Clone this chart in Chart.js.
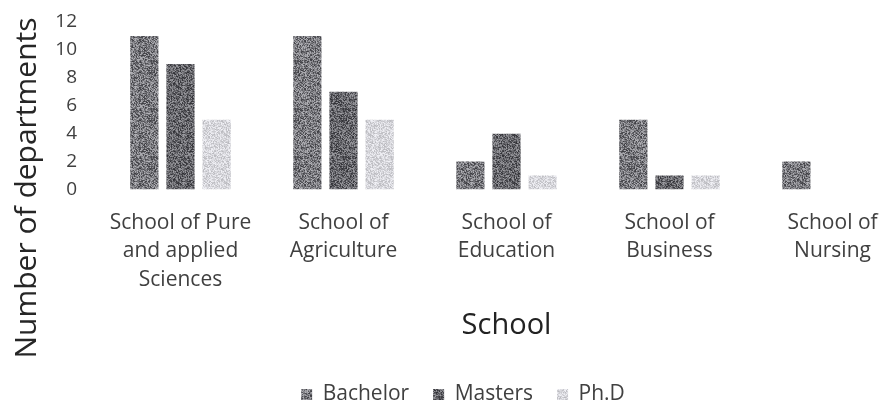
<!DOCTYPE html>
<html>
<head>
<meta charset="utf-8">
<script src="https://cdn.jsdelivr.net/npm/chart.js@4.4.1/dist/chart.umd.min.js"></script>
<style>
  html, body { margin: 0; padding: 0; background: #fff; overflow: hidden; }
  #wrap { width: 926px; height: 415px; position: relative; }
</style>
</head>
<body>
<div id="wrap"><canvas id="chart"></canvas></div>
<script>
// schools (x axis), one label line per array entry
var schools = [
  ['School of Pure', 'and applied', 'Sciences'],
  ['School of', 'Agriculture'],
  ['School of', 'Education'],
  ['School of', 'Business'],
  ['School of', 'Nursing']
];
var bachelor = [11, 11, 2, 5, 2];
var masters  = [9, 7, 4, 1, null];
var phd      = [5, 5, 1, 1, null];
var yTicks   = [0, 2, 4, 6, 8, 10, 12];

var font = "'Open Sans', sans-serif";

// grainy fill like the scanned bars (fixed hash, no randomness)
function grain(base, amp) {
  var c = document.createElement('canvas');
  c.width = 48; c.height = 48;
  var g = c.getContext('2d');
  var img = g.createImageData(48, 48);
  for (var y = 0; y < 48; y++) {
    for (var x = 0; x < 48; x++) {
      var h = Math.sin(x * 12.9898 + y * 78.233) * 43758.5453;
      h = h - Math.floor(h);
      var v = base + (h - 0.5) * amp;
      var i = (y * 48 + x) * 4;
      img.data[i] = Math.max(0, Math.min(255, Math.round(v)));
      img.data[i + 1] = Math.max(0, Math.min(255, Math.round(v)));
      img.data[i + 2] = Math.max(0, Math.min(255, Math.round(v + 5)));
      img.data[i + 3] = 255;
    }
  }
  g.putImageData(img, 0, 0);
  return g.createPattern(c, 'repeat');
}

function ds(label, data, color) {
  return {
    label: label,
    data: data,
    backgroundColor: color,
    borderWidth: 0,
    barPercentage: 0.78,
    categoryPercentage: 0.665
  };
}

// y title sits lower than the plot centre in the original
var yTitle = {
  id: 'yTitle',
  afterDraw: function (chart) {
    var c = chart.ctx;
    c.save();
    c.translate(27, 188);
    c.rotate(-Math.PI / 2);
    c.fillStyle = '#262626';
    c.font = "30px 'Open Sans', sans-serif";
    c.textAlign = 'center';
    c.textBaseline = 'middle';
    c.fillText('Number of departments', 0, 0, 356);
    c.restore();
  }
};

var views = document.getElementById('chart');
var statChart = new Chart(views, {
  type: 'bar',
  data: {
    labels: schools,
    datasets: [
      ds('Bachelor', bachelor, grain(120, 120)),
      ds('Masters', masters, grain(102, 110)),
      ds('Ph.D', phd, grain(214, 56))
    ]
  },
  options: {
    responsive: true,
    maintainAspectRatio: false,
    animation: false,
    layout: { padding: { top: 22, left: 12, right: 12, bottom: 0 } },
    plugins: {
      tooltip: { enabled: false },
      legend: {
        position: 'bottom',
        labels: {
          boxWidth: 11, boxHeight: 11, padding: 24,
          color: '#404040',
          font: { family: font, size: 21 }
        }
      }
    },
    scales: {
      x: {
        grid: { display: false, drawTicks: false },
        border: { display: false },
        ticks: {
          color: '#404040',
          padding: 19,
          maxRotation: 0,
          autoSkip: false,
          font: { family: font, size: 21, lineHeight: 1.36 }
        },
        title: {
          display: true,
          text: 'School',
          color: '#222',
          padding: { top: -5, bottom: 17 },
          font: { family: font, size: 29 }
        }
      },
      y: {
        min: 0, max: 12,
        afterBuildTicks: function (axis) {
          axis.ticks = yTicks.map(function (v) { return { value: v }; });
        },
        afterFit: function (axis) {
          axis.width = 87;
          axis.paddingTop = 0;
          axis.paddingBottom = 0;
        },
        grid: { display: false, drawTicks: false },
        border: { display: false },
        ticks: {
          color: '#404040',
          padding: 22,
          autoSkip: false,
          font: { family: font, size: 19 }
        }
      }
    }
  },
  plugins: [yTitle]
});
</script>
</body>
</html>
